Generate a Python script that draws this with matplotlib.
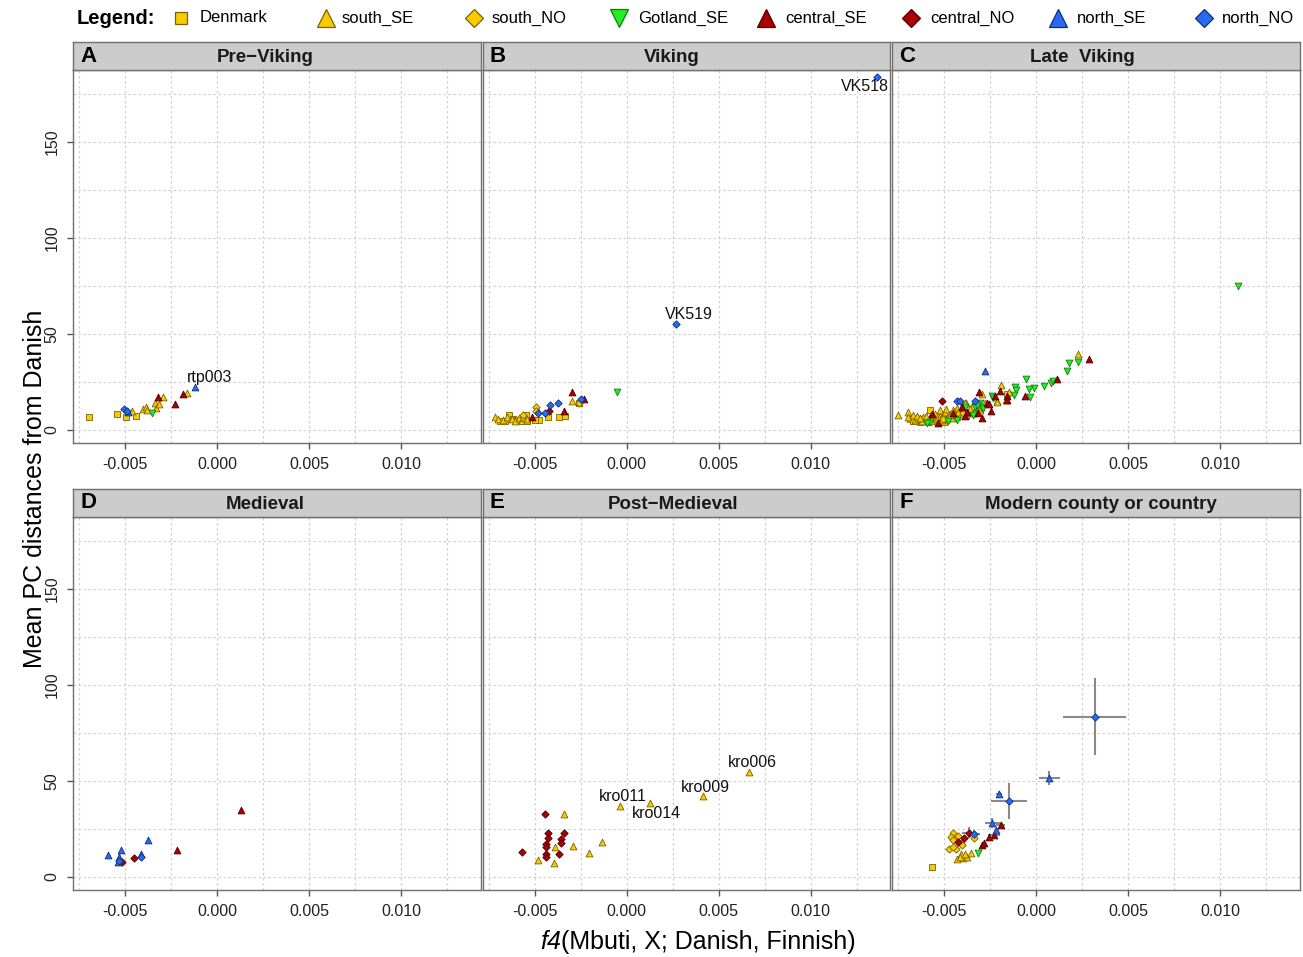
import matplotlib
matplotlib.use('Agg')
import matplotlib.pyplot as plt
from matplotlib.lines import Line2D

plt.rcParams['font.family'] = ['Liberation Sans', 'DejaVu Sans']
plt.rcParams['axes.unicode_minus'] = False

# ---------------- data ----------------
group_names = ['Denmark', 'south_SE', 'south_NO', 'Gotland_SE',
               'central_SE', 'central_NO', 'north_SE', 'north_NO']
panel_letters = ['A', 'B', 'C', 'D', 'E', 'F']
panel_titles = ['Pre\u2212Viking', 'Viking', 'Late  Viking',
                'Medieval', 'Post\u2212Medieval', 'Modern county or country']
x_ticks = [-0.005, 0.0, 0.005, 0.010]
x_tick_labels = ['-0.005', '0.000', '0.005', '0.010']
y_ticks = [0, 50, 100, 150]
y_tick_labels = ['0', '50', '100', '150']

pre_viking = {
    'Denmark': ([-0.006973, -0.005435, -0.004946, -0.004402], [6.6, 8.3, 6.6, 7.1]),
    'south_SE': ([-0.00462, -0.004054, -0.003859, -0.003837, -0.00337, -0.003332, -0.003152, -0.002935, -0.00163],
                 [9.9, 11.1, 12.1, 10.3, 14.2, 11.6, 13.4, 17.0, 19.4]),
    'Gotland_SE': ([-0.003549], [9.0]),
    'central_SE': ([-0.003223, -0.002283, -0.00188], [17.0, 13.5, 18.75]),
    'north_SE': ([-0.00488, -0.001196], [9.5, 22.2]),
    'north_NO': ([-0.005054, -0.004891], [10.8, 9.9]),
}

viking = {
    'Denmark': ([-0.003701, -0.003375, -0.004299, -0.004755, -0.002582, -0.006891, -0.00662, -0.006386,
                 -0.006168, -0.005984, -0.005712, -0.005478, -0.00544, -0.004989],
                [6.9, 7.3, 6.9, 5.0, 14.2, 4.9, 4.5, 7.8, 5.6, 5.2, 4.9, 7.8, 4.5, 5.2]),
    'south_SE': ([-0.002995, -0.002598, -0.004897, -0.007163, -0.006984, -0.006745, -0.006527, -0.006255,
                  -0.006076, -0.005842, -0.005625, -0.00544],
                 [15.1, 14.6, 10.9, 6.6, 5.6, 5.2, 6.6, 5.6, 4.9, 6.3, 7.0, 5.6]),
    'south_NO': ([-0.004935, -0.004935, -0.005625, -0.00262], [11.9, 9.9, 7.8, 14.0]),
    'Gotland_SE': ([-0.000533], [19.9]),
    'central_SE': ([-0.002978, -0.002342, -0.003397, -0.005168], [19.6, 16.1, 9.9, 6.8]),
    'central_NO': ([-0.004228], [9.9]),
    'north_NO': ([0.00269, 0.01358, -0.00419, -0.003755, -0.004446, -0.00481, -0.002505],
                 [55.2, 184.0, 12.9, 14.2, 9.0, 9.0, 16.1]),
}

late_viking = {
    'Denmark': ([-0.00686, -0.00668, -0.00632, -0.00605, -0.00587, -0.00569, -0.00541, -0.00523, -0.00514,
                 -0.00469, -0.00451, -0.00578, -0.00433, -0.00160, -0.00640, -0.00610, -0.00555, -0.00500,
                 -0.00485, -0.00455],
                [5.6, 4.9, 4.3, 5.2, 4.3, 5.9, 4.7, 5.6, 6.9, 6.6, 8.3, 10.4, 6.9, 19.0, 5.8, 4.6, 6.2, 4.0,
                 5.5, 6.2]),
    'south_SE': ([0.002266, -0.001935, -0.002935, -0.007516, -0.006989, -0.00163, -0.002136, -0.001484, -0.003804,
                  -0.00696, -0.00672, -0.00659, -0.00641, -0.00623, -0.00614, -0.00596, -0.00578, -0.00563,
                  -0.00545, -0.00532, -0.00523, -0.00505, -0.00496, -0.00478, -0.00460, -0.00442, -0.00433,
                  -0.00415, -0.00397, -0.00388, -0.00369, -0.00351, -0.00342, -0.00320, -0.00306, -0.00215,
                  -0.00650, -0.00630, -0.00600, -0.00570, -0.00550, -0.00510, -0.00490, -0.00470, -0.00450,
                  -0.00425, -0.00405, -0.00380, -0.00360, -0.00335, -0.00300, -0.00280],
                 [39.4, 23.4, 18.6, 7.8, 9.2, 15.6, 15.3, 20.0, 14.2,
                  6.9, 7.8, 5.2, 6.1, 4.9, 6.9, 5.6, 6.9, 5.2,
                  6.1, 7.3, 10.4, 7.8, 9.5, 6.9, 6.1, 8.7, 11.3,
                  7.8, 10.4, 13.9, 9.5, 12.2, 8.7, 10.8, 10.4, 14.8,
                  7.5, 6.0, 7.2, 4.6, 8.5, 5.0, 11.0, 8.0, 10.5,
                  9.5, 12.5, 8.0, 11.0, 10.0, 12.0, 14.0]),
    'south_NO': ([-0.00560, -0.00505, -0.00333, -0.00400], [6.9, 5.6, 13.4, 8.7]),
    'Gotland_SE': ([0.010978, 0.002283, 0.001793, 0.001652, 0.000815, 0.000924, 0.000402, -0.000125, -0.000397,
                    -0.000543, -0.001141, -0.001087, -0.001228, -0.000359, -0.002424, -0.00306, -0.002967,
                    -0.003277, -0.004783, -0.004326, -0.005777, -0.00596, -0.00388, -0.00333, -0.00320,
                    -0.00288, -0.00342, -0.00234],
                   [75.2, 35.6, 34.7, 30.9, 24.7, 25.7, 23.1, 21.9, 21.5,
                    26.7, 22.2, 20.8, 18.2, 17.0, 17.9, 13.9, 11.3,
                    12.1, 4.5, 5.4, 4.3, 3.8, 12.2, 11.8, 13.0,
                    11.3, 7.8, 16.5]),
    'central_SE': ([0.002848, 0.001109, -0.00063, -0.001957, -0.00313, -0.002462, -0.002935, -0.002243,
                    -0.001576, -0.001576, -0.00569, -0.00532, -0.00451, -0.00406, -0.00388, -0.00378,
                    -0.00315, -0.00270, -0.00255],
                   [37.1, 26.7, 17.7, 20.3, 19.6, 9.9, 6.1, 17.9,
                    17.7, 15.6, 8.3, 3.8, 9.0, 12.2, 7.3, 9.5,
                    8.7, 13.9, 13.5]),
    'central_NO': ([-0.005141], [14.9]),
    'north_SE': ([-0.002804], [30.6]),
    'north_NO': ([-0.004326, -0.004147, -0.003315], [14.9, 14.9, 14.9]),
}

medieval = {
    'central_SE': ([0.001288, -0.002207], [35.1, 14.1]),
    'central_NO': ([-0.004511, -0.005163], [10.1, 7.8]),
    'north_SE': ([-0.00375, -0.005957, -0.00525, -0.005342, -0.005413, -0.004163], [19.4, 11.5, 14.1, 10.2, 7.8, 11.8]),
    'north_NO': ([-0.004163, -0.005326], [10.6, 8.3]),
}

post_medieval = {
    'south_SE': ([0.006658, 0.004141, -0.000386, 0.001261, -0.003397, -0.001348, -0.002908, -0.003902,
                  -0.002054, -0.004826, -0.003973],
                 [54.7, 42.0, 36.8, 38.5, 33.0, 18.4, 16.1, 15.4, 12.3, 8.9, 7.1]),
    'central_NO': ([-0.004446, -0.004283, -0.004266, -0.003413, -0.00356, -0.00356, -0.004408, -0.004408,
                    -0.004408, -0.004408, -0.003701, -0.005679],
                   [32.6, 22.9, 20.5, 22.9, 20.0, 17.9, 17.2, 15.8, 12.0, 10.6, 12.0, 12.9]),
}

modern = {
    'Denmark': ([-0.005668], [5.4]),
    'south_SE': ([-0.004293, -0.004, -0.003783, -0.003549, -0.004092, -0.00388, -0.00416],
                 [9.4, 9.7, 10.6, 12.7, 12.0, 12.0, 10.6]),
    'south_NO': ([-0.004511, -0.004239, -0.004652, -0.004511, -0.004728, -0.004364, -0.004543, -0.004109,
                  -0.004038, -0.003386],
                 [23.1, 21.4, 21.0, 19.3, 14.4, 14.4, 15.8, 17.9, 16.7, 20.3]),
    'Gotland_SE': ([-0.003185], [12.7]),
    'central_SE': ([-0.001935, -0.002299, -0.002554, -0.002951, -0.00285], [26.9, 21.9, 20.7, 16.7, 17.5]),
    'central_NO': ([-0.003658, -0.003929, -0.004239], [23.1, 20.5, 18.4]),
    'north_SE': ([0.000707, -0.002027, -0.002391, -0.00219], [51.4, 43.1, 28.0, 24.5]),
    'north_NO': ([0.003174, -0.001484, -0.003386], [83.5, 39.7, 22.4]),
}

# error bars of modern reference groups
err_x = [0.003174, 0.000707, -0.001484, -0.002027, -0.002391, -0.003658, -0.003386, -0.002299, -0.001935]
err_y = [83.5, 51.4, 39.7, 43.1, 28.0, 23.1, 22.4, 21.9, 26.9]
err_dx = [0.001712, 0.000554, 0.00097, 0.00015, 0.0004, 0.0004, 0.0003, 0.0003, 0.00025]
err_dy = [20.1, 3.7, 9.3, 1.5, 2.6, 3.0, 2.0, 1.5, 1.5]

# labelled samples: (panel, name, x, y, dx_pt, dy_pt)
sample_labels = [
    (0, 'rtp003', -0.001196, 22.2, 10.6, 7.2),
    (1, 'VK519', 0.00269, 55.2, 9.4, 7.0),
    (1, 'VK518', 0.01358, 184.0, -8.4, -7.0),
    (4, 'kro006', 0.006658, 54.7, 2.2, 7.0),
    (4, 'kro009', 0.004141, 42.0, 2.0, 6.5),
    (4, 'kro011', -0.000386, 36.8, 2.2, 7.0),
    (4, 'kro014', 0.001261, 38.5, 4.3, -7.4),
]

panels_data = [pre_viking, viking, late_viking, medieval, post_medieval, modern]

# ---------------- styles ----------------
gold, gold_e = '#F7CB00', '#7a6200'
green, green_e = '#22EE22', '#157a15'
red, red_e = '#AA0000', '#4a0000'
blue, blue_e = '#2A6BEE', '#0b2f80'
style = {
    'Denmark': ('s', gold, gold_e, 16),
    'south_SE': ('^', gold, gold_e, 24),
    'south_NO': ('D', gold, gold_e, 14),
    'Gotland_SE': ('v', green, green_e, 24),
    'central_SE': ('^', red, red_e, 24),
    'central_NO': ('D', red, red_e, 14),
    'north_SE': ('^', blue, blue_e, 24),
    'north_NO': ('D', blue, blue_e, 14),
}

W, H = 1303, 957
fig = plt.figure(figsize=(W / 100, H / 100), dpi=100)

col_left = [73.3, 482.8, 892.3]
pw = 407.4
row_top = [70.0, 517.0]
ph = 373.3
strip_h = 28.0
title_shift_px = [-11.5, -14.5, -13.5, -11.5, -13.0, 5.0]
border = '#707070'
xlim = (-0.007826, 0.014315)
ylim = (-6.93, 187.5)

axes = []
for i in range(6):
    r, c = divmod(i, 3)
    l = col_left[c]
    t = row_top[r]
    ax = fig.add_axes([l / W, 1 - (t + ph) / H, pw / W, ph / H])
    axes.append(ax)
    ax.set_xlim(*xlim)
    ax.set_ylim(*ylim)
    ax.set_xticks(x_ticks)
    ax.set_xticklabels(x_tick_labels)
    ax.set_xticks([-0.0075, -0.0025, 0.0025, 0.0075, 0.0125], minor=True)
    ax.set_yticks(y_ticks)
    ax.set_yticks([25, 75, 125, 175], minor=True)
    if c == 0:
        ax.set_yticklabels(y_tick_labels, rotation=90, va='center')
    else:
        ax.set_yticklabels([])
    ax.tick_params(axis='both', which='major', length=4, width=1, color='#555555',
                   labelsize=11.5, labelcolor='#222222')
    ax.tick_params(axis='x', which='major', pad=6)
    ax.tick_params(axis='y', which='major', pad=6, length=4 if c == 0 else 0)
    ax.tick_params(axis='both', which='minor', length=0)
    ax.grid(True, which='both', linestyle=(0, (2, 2)), color='#d2d2d2', linewidth=0.9)
    ax.set_axisbelow(True)
    for s in ax.spines.values():
        s.set_color(border)
        s.set_linewidth(1.0)

    # strip
    sax = fig.add_axes([l / W, 1 - t / H, pw / W, strip_h / H])
    sax.set_facecolor('#cccccc')
    sax.set_xticks([]); sax.set_yticks([])
    for s in sax.spines.values():
        s.set_color(border)
        s.set_linewidth(1.0)
    sax.text(0.5 + title_shift_px[i] / pw, 0.45, panel_titles[i], ha='center', va='center',
             fontsize=13.5, fontweight='bold', color='#1a1a1a', transform=sax.transAxes)
    sax.text(0.017, 0.5, panel_letters[i], ha='left', va='center', fontsize=16,
             fontweight='bold', color='black', transform=sax.transAxes)

    if i == 5:
        ax.errorbar(err_x, err_y, xerr=err_dx, yerr=err_dy, fmt='none',
                    ecolor='#8a8a8a', elinewidth=1.5, capsize=0, zorder=2)

    data = panels_data[i]
    for g in group_names:
        if g in data:
            xs, ys = data[g]
            m, fc, ec, sz = style[g]
            ax.scatter(xs, ys, marker=m, s=sz, facecolor=fc, edgecolor=ec,
                       linewidth=0.6, zorder=3)

for (p, name, x, y, dx, dy) in sample_labels:
    axes[p].annotate(name, (x, y), xytext=(dx, dy), textcoords='offset points',
                     ha='center', va='center', fontsize=11.5, color='#111111', zorder=4)

# axis titles
fig.text(35 / W, 1 - 489 / H, 'Mean PC distances from Danish', rotation=90,
         ha='center', va='center', fontsize=18)
fig.text(561 / W, 1 - 942 / H, 'f4', ha='right', va='center', fontsize=18, fontstyle='italic')
fig.text(561 / W, 1 - 942 / H, '(Mbuti, X; Danish, Finnish)', ha='left', va='center', fontsize=18)

# legend (manually laid out, like ggplot's top legend)
fig.text(77 / W, 1 - 18 / H, 'Legend:', ha='left', va='center', fontsize=14.5, fontweight='bold')
legend_marker_x = [181, 326, 474, 619, 766, 911, 1058, 1204]
legend_text_x = [200, 342, 492, 638, 785, 930, 1077, 1222]
for g, mx, tx in zip(group_names, legend_marker_x, legend_text_x):
    m, fc, ec, sz = style[g]
    ms = {'s': 9, '^': 12.5, 'v': 12.5, 'D': 9.5}[m]
    fig.add_artist(Line2D([mx / W], [1 - 18 / H], transform=fig.transFigure, linestyle='none',
                          marker=m, markersize=ms, markerfacecolor=fc, markeredgecolor=ec,
                          markeredgewidth=0.9))
    fig.text(tx / W, 1 - 18 / H, g, ha='left', va='center', fontsize=12)

fig.savefig('out.png', dpi=100)
